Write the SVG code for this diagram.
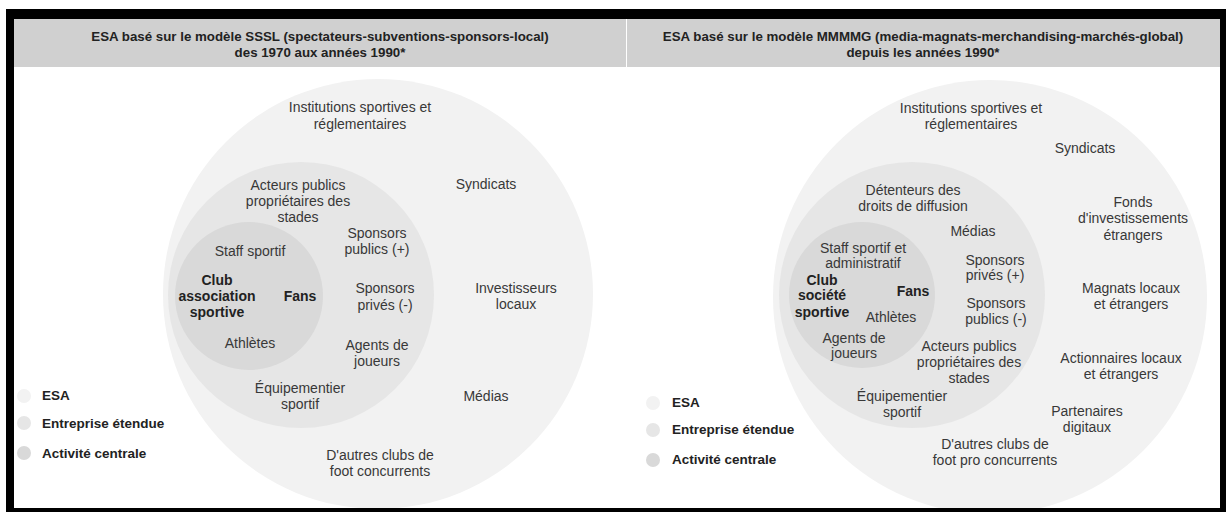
<svg xmlns="http://www.w3.org/2000/svg" width="1226" height="512" viewBox="0 0 1226 512">
<style>
.t{font-family:"Liberation Sans",Arial,sans-serif;font-size:14px;fill:#383838;text-anchor:middle}
.b{font-weight:bold;fill:#222}
.h{font-family:"Liberation Sans",Arial,sans-serif;font-size:13.3px;font-weight:bold;fill:#222;text-anchor:middle}
.l{font-family:"Liberation Sans",Arial,sans-serif;font-size:13.5px;font-weight:bold;fill:#222}
.esa{fill:#f2f2f2}
.ent{fill:#e6e6e6}
.core{fill:#d9d9d9}
.hdr{fill:#d0d0d0}
</style>
<rect x="0" y="0" width="1226" height="512" fill="#ffffff"/>
<rect x="14" y="19" width="1206" height="489" fill="#ffffff"/>

<g id="header-left">
<rect class="hdr" x="14" y="19" width="612" height="48"/>
<text class="h" x="320" y="41">ESA basé sur le modèle SSSL (spectateurs-subventions-sponsors-local)</text>
<text class="h" x="320" y="57">des 1970 aux années 1990*</text>
</g>
<g id="header-right">
<rect class="hdr" x="627" y="19" width="593" height="48"/>
<text class="h" x="923" y="41">ESA basé sur le modèle MMMMG (media-magnats-merchandising-marchés-global)</text>
<text class="h" x="923" y="57">depuis les années 1990*</text>
</g>

<g id="left-diagram">
<g id="left-esa"><circle class="esa" cx="378" cy="294" r="215"/></g>
<g id="left-ent"><circle class="ent" cx="301" cy="295" r="133"/></g>
<g id="left-core"><circle class="core" cx="249" cy="296" r="74"/></g>
<g id="left-labels">
<text class="t" x="360" y="112">Institutions sportives et</text>
<text class="t" x="360" y="129">réglementaires</text>
<text class="t" x="486" y="189">Syndicats</text>
<text class="t" x="516" y="293">Investisseurs</text>
<text class="t" x="516" y="309">locaux</text>
<text class="t" x="486" y="401">Médias</text>
<text class="t" x="298" y="190">Acteurs publics</text>
<text class="t" x="298" y="206">propriétaires des</text>
<text class="t" x="298" y="222">stades</text>
<text class="t" x="377" y="238">Sponsors</text>
<text class="t" x="377" y="254">publics (+)</text>
<text class="t" x="250" y="256">Staff sportif</text>
<text class="t b" x="217" y="285">Club</text>
<text class="t b" x="217" y="301">association</text>
<text class="t b" x="217" y="317">sportive</text>
<text class="t b" x="300" y="301">Fans</text>
<text class="t" x="385" y="293">Sponsors</text>
<text class="t" x="385" y="310">privés (-)</text>
<text class="t" x="250" y="348">Athlètes</text>
<text class="t" x="377" y="350">Agents de</text>
<text class="t" x="377" y="366">joueurs</text>
<text class="t" x="300" y="393">Équipementier</text>
<text class="t" x="300" y="409">sportif</text>
<text class="t" x="380" y="460">D'autres clubs de</text>
<text class="t" x="380" y="476">foot concurrents</text>
</g>
</g>

<g id="right-diagram">
<g id="right-esa"><circle class="esa" cx="990" cy="297" r="217"/></g>
<g id="right-ent"><circle class="ent" cx="912" cy="295" r="133"/></g>
<g id="right-core"><circle class="core" cx="862" cy="295" r="73"/></g>
<g id="right-labels">
<text class="t" x="971" y="113">Institutions sportives et</text>
<text class="t" x="971" y="129">réglementaires</text>
<text class="t" x="1085" y="153">Syndicats</text>
<text class="t" x="1133" y="207">Fonds</text>
<text class="t" x="1133" y="223">d'investissements</text>
<text class="t" x="1133" y="240">étrangers</text>
<text class="t" x="1131" y="293">Magnats locaux</text>
<text class="t" x="1131" y="309">et étrangers</text>
<text class="t" x="1121" y="363">Actionnaires locaux</text>
<text class="t" x="1121" y="379">et étrangers</text>
<text class="t" x="1087" y="416">Partenaires</text>
<text class="t" x="1087" y="432">digitaux</text>
<text class="t" x="913" y="195">Détenteurs des</text>
<text class="t" x="913" y="211">droits de diffusion</text>
<text class="t" x="973" y="236">Médias</text>
<text class="t" x="863" y="253">Staff sportif et</text>
<text class="t" x="863" y="268">administratif</text>
<text class="t" x="995" y="265">Sponsors</text>
<text class="t" x="995" y="280">privés (+)</text>
<text class="t b" x="822" y="285">Club</text>
<text class="t b" x="822" y="300">société</text>
<text class="t b" x="822" y="317">sportive</text>
<text class="t b" x="913" y="296">Fans</text>
<text class="t" x="996" y="308">Sponsors</text>
<text class="t" x="996" y="324">publics (-)</text>
<text class="t" x="891" y="322">Athlètes</text>
<text class="t" x="854" y="343">Agents de</text>
<text class="t" x="854" y="358">joueurs</text>
<text class="t" x="969" y="351">Acteurs publics</text>
<text class="t" x="969" y="367">propriétaires des</text>
<text class="t" x="969" y="383">stades</text>
<text class="t" x="902" y="401">Équipementier</text>
<text class="t" x="902" y="417">sportif</text>
<text class="t" x="995" y="449">D'autres clubs de</text>
<text class="t" x="995" y="465">foot pro concurrents</text>
</g>
</g>

<g id="legend-left">
<circle class="esa" cx="24" cy="396" r="7"/>
<circle class="ent" cx="24" cy="423" r="7"/>
<circle class="core" cx="24" cy="453" r="7"/>
<text class="l" x="42" y="400">ESA</text>
<text class="l" x="42" y="428">Entreprise étendue</text>
<text class="l" x="42" y="458">Activité centrale</text>
</g>
<g id="legend-right">
<circle class="esa" cx="653" cy="403" r="7"/>
<circle class="ent" cx="653" cy="430" r="7"/>
<circle class="core" cx="653" cy="460" r="7"/>
<text class="l" x="672" y="407">ESA</text>
<text class="l" x="672" y="434">Entreprise étendue</text>
<text class="l" x="672" y="464">Activité centrale</text>
</g>

<g id="frame" fill="#000000">
<rect x="6" y="9" width="1220" height="10"/>
<rect x="6" y="9" width="8" height="503"/>
<rect x="1220" y="9" width="6" height="503"/>
<rect x="6" y="508" width="1220" height="4"/>
</g>
</svg>
